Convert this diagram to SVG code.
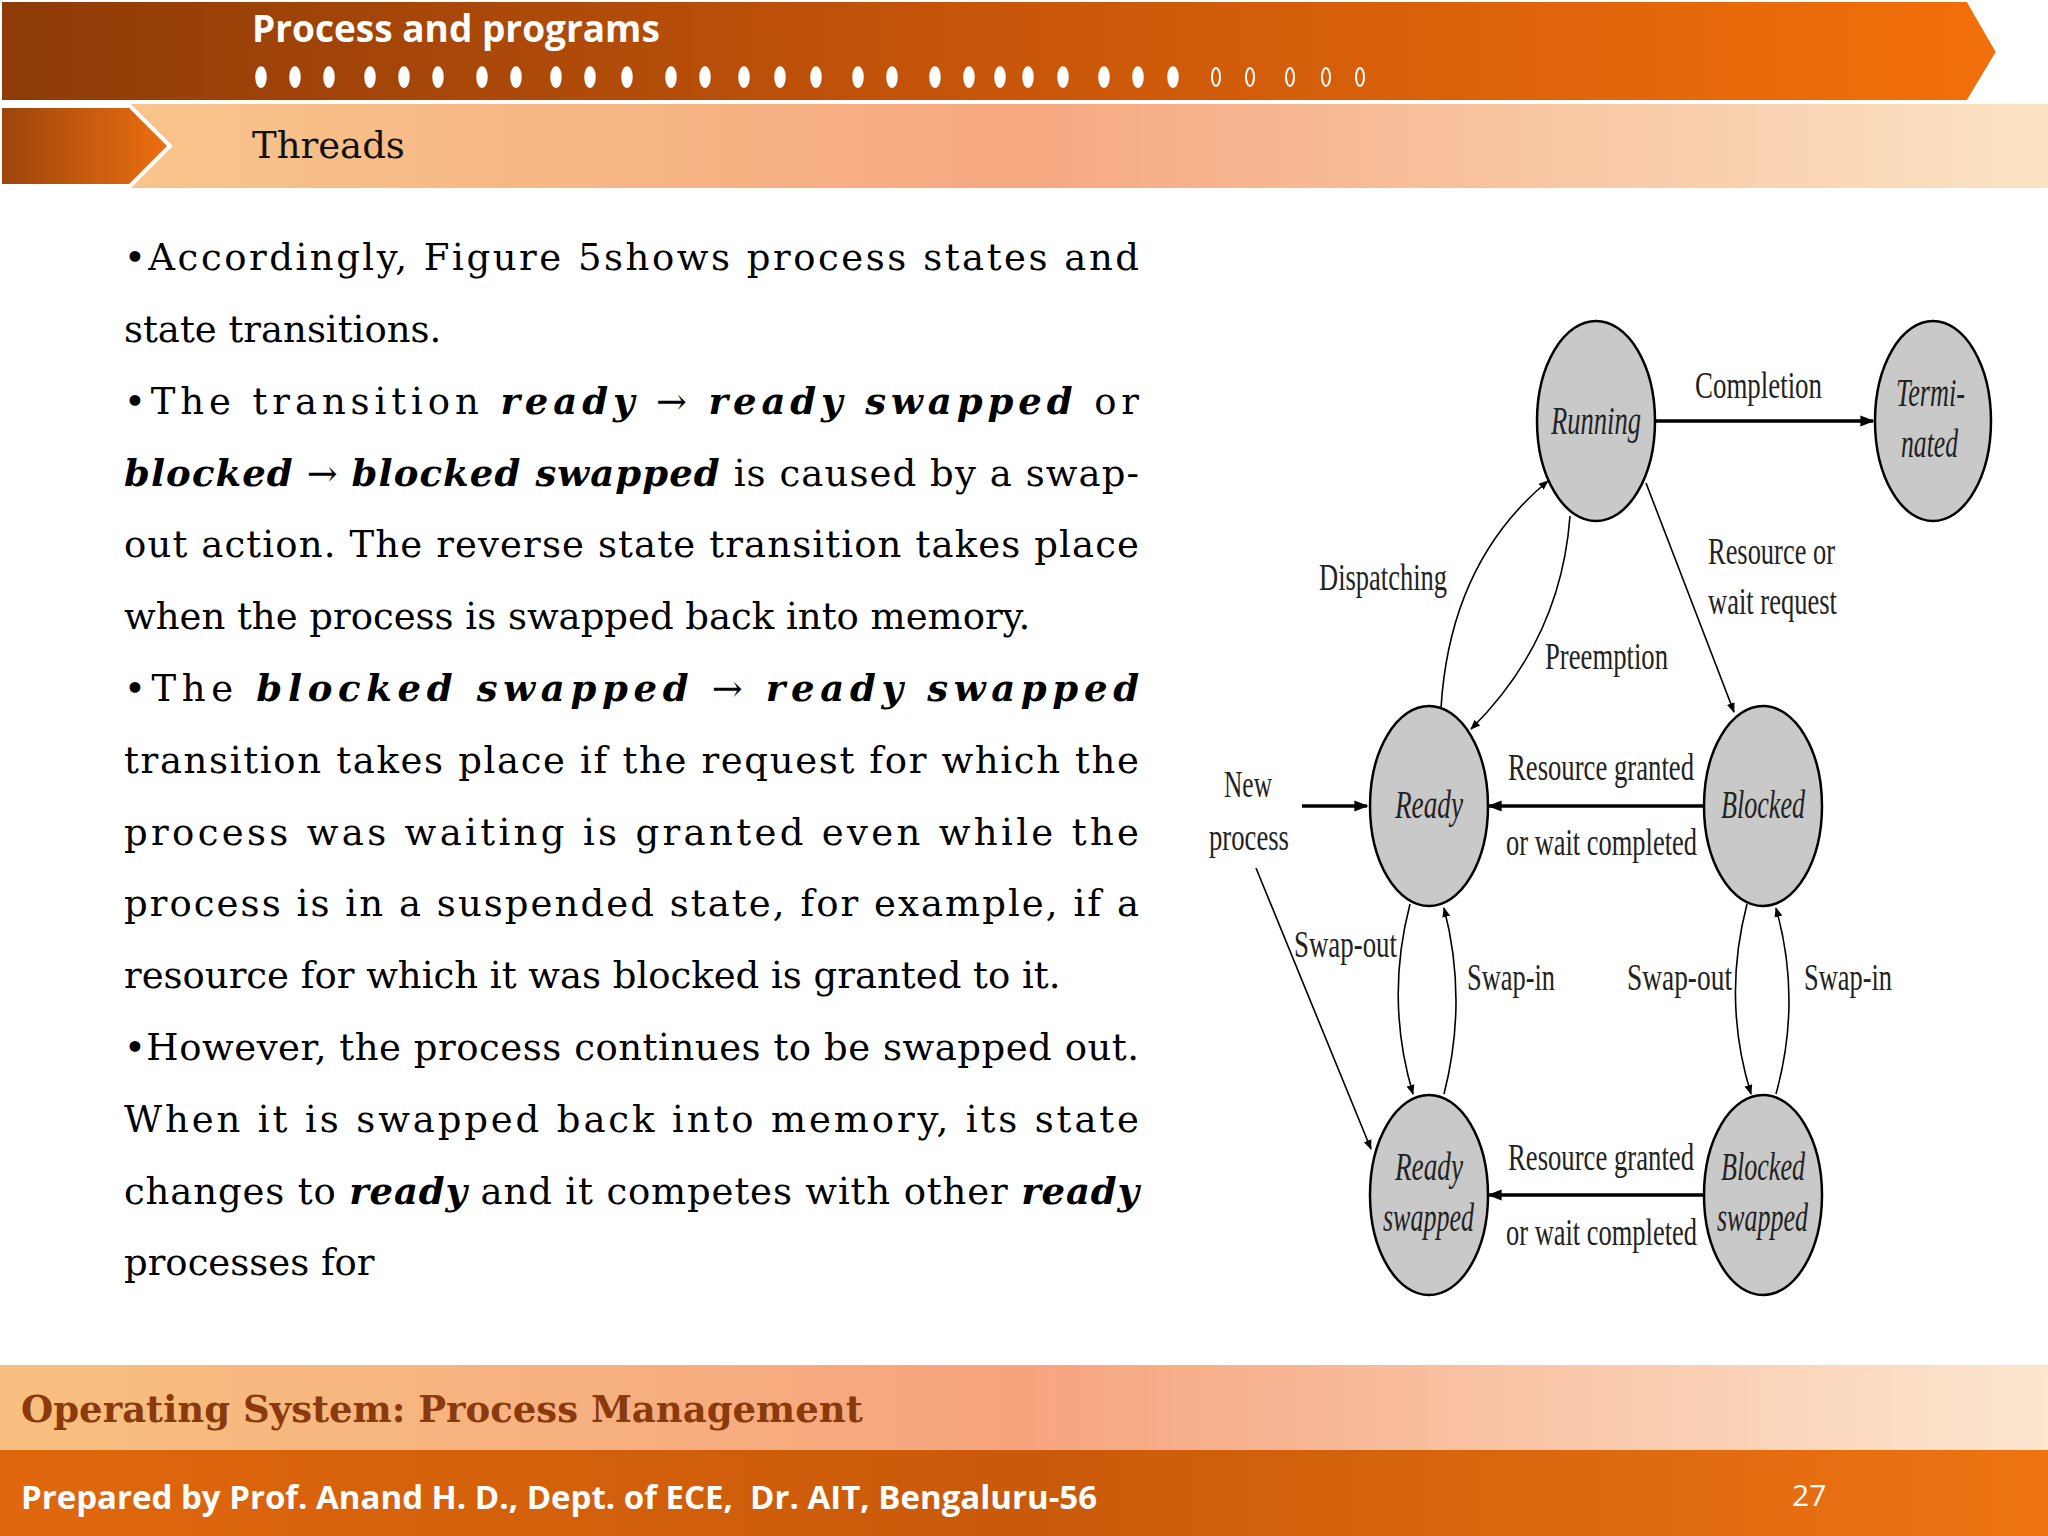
<svg xmlns="http://www.w3.org/2000/svg" width="2048" height="1536" viewBox="0 0 2048 1536">
<defs>
<linearGradient id="hdr" x1="0" x2="1" y1="0" y2="0"><stop offset="0" stop-color="#8E3B08"/><stop offset="0.5" stop-color="#C8560A"/><stop offset="1" stop-color="#F2700A"/></linearGradient>
<linearGradient id="sub" x1="0" x2="1" y1="0" y2="0"><stop offset="0" stop-color="#F8C98C"/><stop offset="0.5" stop-color="#F6A880"/><stop offset="1" stop-color="#FBE3C4"/></linearGradient>
<linearGradient id="chev" x1="0" x2="1"><stop offset="0" stop-color="#9A440C"/><stop offset="1" stop-color="#EE7010"/></linearGradient>
<linearGradient id="ft1" x1="0" x2="1"><stop offset="0" stop-color="#F8C080"/><stop offset="0.5" stop-color="#F6A47E"/><stop offset="1" stop-color="#FCE6D0"/></linearGradient>
<linearGradient id="ft2" x1="0" x2="1"><stop offset="0" stop-color="#E0670D"/><stop offset="0.5" stop-color="#C95A0A"/><stop offset="1" stop-color="#EE7412"/></linearGradient>
<marker id="ah" viewBox="0 0 10 10" refX="9" refY="5" markerWidth="10" markerHeight="10" markerUnits="userSpaceOnUse" orient="auto"><path d="M0,1 L10,5 L0,9 z" fill="#000"/></marker>
<marker id="ahb" viewBox="0 0 10 10" refX="9" refY="5" markerWidth="14" markerHeight="14" markerUnits="userSpaceOnUse" orient="auto"><path d="M0,1 L10,5 L0,9 z" fill="#000"/></marker>
</defs>
<style>
.body{font-family:"DejaVu Serif","Liberation Serif",serif;font-size:37px;fill:#000}
.bi{font-weight:bold;font-style:italic}
.lbl{font-family:"Liberation Serif",serif;font-size:38px;fill:#222}
.st{font-family:"Liberation Serif",serif;font-size:40px;font-style:italic;fill:#222}
.node{fill:#c9c9c9;stroke:#000;stroke-width:2.5}
.thin{fill:none;stroke:#000;stroke-width:1.6}
.thick{fill:none;stroke:#000;stroke-width:3.5}
</style>
<rect width="2048" height="1536" fill="#fff"/>
<g id="header">
<path d="M0,0 H1968 L1998,52 L1968,102 H0 z" fill="url(#hdr)" stroke="#fff" stroke-width="4"/>
<text x="252" y="42" font-family="Open Sans, sans-serif" font-weight="bold" font-size="37" fill="#fff">Process and programs</text>
<g fill="#fff" stroke="#fff" stroke-width="1.5">
<ellipse cx="261" cy="77" rx="5" ry="10"/><ellipse cx="295" cy="77" rx="5" ry="10"/><ellipse cx="329" cy="77" rx="5" ry="10"/>
<ellipse cx="370" cy="77" rx="5" ry="10"/><ellipse cx="404" cy="77" rx="5" ry="10"/><ellipse cx="438" cy="77" rx="5" ry="10"/>
<ellipse cx="482" cy="77" rx="5" ry="10"/><ellipse cx="516" cy="77" rx="5" ry="10"/>
<ellipse cx="556" cy="77" rx="5" ry="10"/><ellipse cx="590" cy="77" rx="5" ry="10"/><ellipse cx="627" cy="77" rx="5" ry="10"/>
<ellipse cx="671" cy="77" rx="5" ry="10"/><ellipse cx="705" cy="77" rx="5" ry="10"/>
<ellipse cx="744" cy="77" rx="5" ry="10"/><ellipse cx="780" cy="77" rx="5" ry="10"/><ellipse cx="816" cy="77" rx="5" ry="10"/>
<ellipse cx="858" cy="77" rx="5" ry="10"/><ellipse cx="892" cy="77" rx="5" ry="10"/>
<ellipse cx="935" cy="77" rx="5" ry="10"/><ellipse cx="969" cy="77" rx="5" ry="10"/><ellipse cx="1000" cy="77" rx="5" ry="10"/><ellipse cx="1028" cy="77" rx="5" ry="10"/><ellipse cx="1063" cy="77" rx="5" ry="10"/>
<ellipse cx="1104" cy="77" rx="5" ry="10"/><ellipse cx="1138" cy="77" rx="5" ry="10"/><ellipse cx="1173" cy="77" rx="5" ry="10"/>
</g>
<g fill="none" stroke="#fff" stroke-width="2">
<ellipse cx="1216" cy="77" rx="4" ry="9"/><ellipse cx="1250" cy="77" rx="4" ry="9"/>
<ellipse cx="1290" cy="77" rx="4" ry="9"/><ellipse cx="1326" cy="77" rx="4" ry="9"/><ellipse cx="1360" cy="77" rx="4" ry="9"/>
</g>
<rect x="0" y="104" width="2048" height="84" fill="url(#sub)"/>
<path d="M0,106 H130 L170,146 L130,186 H0 z" fill="url(#chev)" stroke="#fff" stroke-width="4"/>
<text x="252" y="158" font-family="DejaVu Serif, serif" font-size="37" fill="#111">Threads</text>
</g>
<g id="body-text" class="body">
<text x="124" y="270" textLength="1015" lengthAdjust="spacing">•Accordingly, Figure 5shows process states and</text>
<text x="124" y="342">state transitions.</text>
<text x="124" y="414" textLength="1015" lengthAdjust="spacing">•The transition <tspan class="bi">ready</tspan> → <tspan class="bi">ready swapped</tspan> or</text>
<text x="124" y="486" textLength="1015" lengthAdjust="spacing"><tspan class="bi">blocked</tspan> → <tspan class="bi">blocked swapped</tspan> is caused by a swap-</text>
<text x="124" y="557" textLength="1015" lengthAdjust="spacing">out action. The reverse state transition takes place</text>
<text x="124" y="629">when the process is swapped back into memory.</text>
<text x="124" y="701" textLength="1015" lengthAdjust="spacing">•The <tspan class="bi">blocked swapped</tspan> → <tspan class="bi">ready swapped</tspan></text>
<text x="124" y="773" textLength="1015" lengthAdjust="spacing">transition takes place if the request for which the</text>
<text x="124" y="845" textLength="1015" lengthAdjust="spacing">process was waiting is granted even while the</text>
<text x="124" y="916" textLength="1015" lengthAdjust="spacing">process is in a suspended state, for example, if a</text>
<text x="124" y="988">resource for which it was blocked is granted to it.</text>
<text x="124" y="1060" textLength="1015" lengthAdjust="spacing">•However, the process continues to be swapped out.</text>
<text x="124" y="1132" textLength="1015" lengthAdjust="spacing">When it is swapped back into memory, its state</text>
<text x="124" y="1204" textLength="1015" lengthAdjust="spacing">changes to <tspan class="bi">ready</tspan> and it competes with other <tspan class="bi">ready</tspan></text>
<text x="124" y="1275">processes for</text>
</g>
<g id="connectors">
<line class="thick" x1="1656" y1="421" x2="1873" y2="421" marker-end="url(#ahb)"/>
<path class="thin" d="M1441,708 Q1450,562 1548,481" marker-end="url(#ah)"/>
<path class="thin" d="M1570,516 Q1561,640 1471,729" marker-end="url(#ah)"/>
<path class="thin" d="M1646,483 L1734,712" marker-end="url(#ah)"/>
<line class="thick" x1="1704" y1="806" x2="1489" y2="806" marker-end="url(#ahb)"/>
<line class="thick" x1="1302" y1="806" x2="1367" y2="806" marker-end="url(#ahb)"/>
<path class="thin" d="M1256,868 L1371,1149" marker-end="url(#ah)"/>
<path class="thin" d="M1410,904 Q1385,1000 1413,1094" marker-end="url(#ah)"/>
<path class="thin" d="M1444,1094 Q1468,1000 1444,908" marker-end="url(#ah)"/>
<path class="thin" d="M1747,904 Q1722,1000 1751,1094" marker-end="url(#ah)"/>
<path class="thin" d="M1776,1094 Q1802,1000 1776,908" marker-end="url(#ah)"/>
<line class="thick" x1="1704" y1="1195" x2="1489" y2="1195" marker-end="url(#ahb)"/>
</g>
<g id="labels" class="lbl">
<text x="1695" y="398" textLength="127" lengthAdjust="spacingAndGlyphs">Completion</text>
<text x="1708" y="564" textLength="127" lengthAdjust="spacingAndGlyphs">Resource or</text>
<text x="1708" y="614" textLength="129" lengthAdjust="spacingAndGlyphs">wait request</text>
<text x="1319" y="590" textLength="128" lengthAdjust="spacingAndGlyphs">Dispatching</text>
<text x="1545" y="669" textLength="123" lengthAdjust="spacingAndGlyphs">Preemption</text>
<text x="1508" y="780" textLength="186" lengthAdjust="spacingAndGlyphs">Resource granted</text>
<text x="1506" y="855" textLength="191" lengthAdjust="spacingAndGlyphs">or wait completed</text>
<text x="1224" y="797" textLength="48" lengthAdjust="spacingAndGlyphs">New</text>
<text x="1209" y="850" textLength="80" lengthAdjust="spacingAndGlyphs">process</text>
<text x="1294" y="957" textLength="103" lengthAdjust="spacingAndGlyphs">Swap-out</text>
<text x="1467" y="990" textLength="88" lengthAdjust="spacingAndGlyphs">Swap-in</text>
<text x="1627" y="990" textLength="105" lengthAdjust="spacingAndGlyphs">Swap-out</text>
<text x="1804" y="990" textLength="88" lengthAdjust="spacingAndGlyphs">Swap-in</text>
<text x="1508" y="1170" textLength="186" lengthAdjust="spacingAndGlyphs">Resource granted</text>
<text x="1506" y="1245" textLength="191" lengthAdjust="spacingAndGlyphs">or wait completed</text>
</g>
<g id="running"><ellipse class="node" cx="1596" cy="421" rx="59" ry="100"/><text class="st" x="1551" y="434" textLength="90" lengthAdjust="spacingAndGlyphs">Running</text></g>
<g id="terminated"><ellipse class="node" cx="1933" cy="421" rx="58" ry="100"/><text class="st" x="1896" y="406" textLength="69" lengthAdjust="spacingAndGlyphs">Termi-</text><text class="st" x="1901" y="457" textLength="57" lengthAdjust="spacingAndGlyphs">nated</text></g>
<g id="ready"><ellipse class="node" cx="1429" cy="806" rx="59" ry="100"/><text class="st" x="1395" y="818" textLength="68" lengthAdjust="spacingAndGlyphs">Ready</text></g>
<g id="blocked"><ellipse class="node" cx="1763" cy="806" rx="59" ry="100"/><text class="st" x="1721" y="818" textLength="84" lengthAdjust="spacingAndGlyphs">Blocked</text></g>
<g id="ready-swapped"><ellipse class="node" cx="1429" cy="1195" rx="59" ry="100"/><text class="st" x="1395" y="1180" textLength="68" lengthAdjust="spacingAndGlyphs">Ready</text><text class="st" x="1383" y="1231" textLength="91" lengthAdjust="spacingAndGlyphs">swapped</text></g>
<g id="blocked-swapped"><ellipse class="node" cx="1763" cy="1195" rx="59" ry="100"/><text class="st" x="1721" y="1180" textLength="84" lengthAdjust="spacingAndGlyphs">Blocked</text><text class="st" x="1717" y="1231" textLength="91" lengthAdjust="spacingAndGlyphs">swapped</text></g>
<g id="footer">
<rect x="0" y="1365" width="2048" height="85" fill="url(#ft1)"/>
<text x="21" y="1422" font-family="DejaVu Serif, serif" font-weight="bold" font-size="37" fill="#8A3A0C">Operating System: Process Management</text>
<rect x="0" y="1450" width="2048" height="86" fill="url(#ft2)"/>
<text x="21" y="1509" font-family="Open Sans, sans-serif" font-weight="bold" font-size="33" fill="#fff" xml:space="preserve">Prepared by Prof. Anand H. D., Dept. of ECE,  Dr. AIT, Bengaluru-56</text>
<text x="1792" y="1506" font-family="Open Sans, sans-serif" font-size="30" fill="#fff">27</text>
</g>
</svg>
